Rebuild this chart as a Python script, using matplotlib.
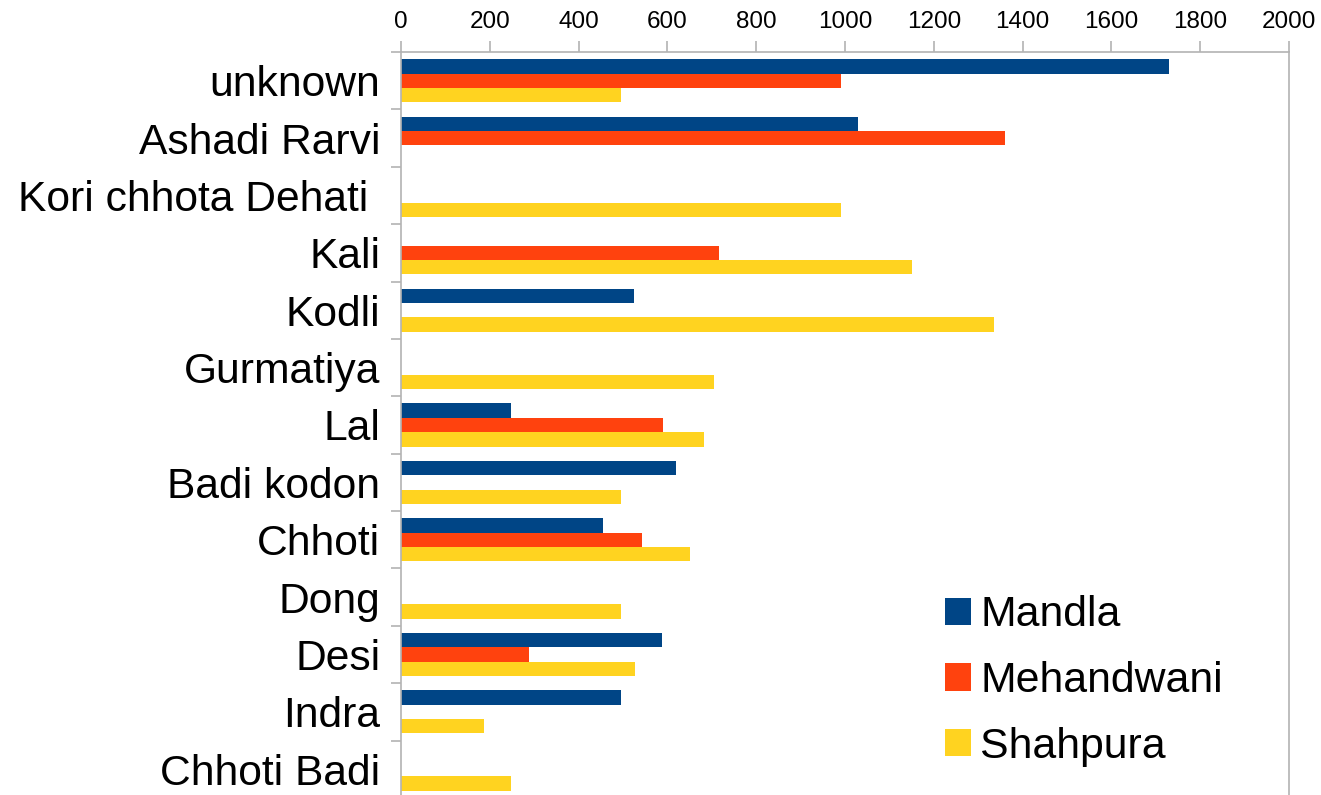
import numpy as np
import matplotlib
matplotlib.use('Agg')
import matplotlib.pyplot as plt
from matplotlib.patches import Patch

plt.rcParams['font.family'] = 'Liberation Sans'

categories = ['unknown', 'Ashadi Rarvi', 'Kori chhota Dehati ', 'Kali', 'Kodli',
              'Gurmatiya', 'Lal', 'Badi kodon', 'Chhoti', 'Dong', 'Desi',
              'Indra', 'Chhoti Badi']
mandla     = [1730, 1030, 0, 0, 525, 0, 248, 620, 455, 0, 588, 495, 0]
mehandwani = [990, 1360, 0, 716, 0, 0, 590, 0, 543, 0, 288, 0, 0]
shahpura   = [495, 0, 990, 1150, 1336, 705, 682, 495, 650, 495, 527, 187, 248]
series_names = ['Mandla', 'Mehandwani', 'Shahpura']
colors = ['#004586', '#ff420e', '#ffd320']

fig = plt.figure(figsize=(13.21, 7.95), dpi=100)
ax = fig.add_axes([401/1321, 1 - 798/795, 888/1321, 746/795])

y = np.arange(len(categories))
h = 0.25
for k, vals in enumerate([mandla, mehandwani, shahpura]):
    ax.barh(y + (k - 1) * h, vals, height=h, color=colors[k], linewidth=0)

ax.set_xlim(0, 2000)
ax.set_ylim(len(categories) - 0.5, -0.5)
ax.set_xticks(np.arange(0, 2001, 200))
ax.xaxis.tick_top()
ax.tick_params(axis='x', which='major', direction='out', length=8, width=1.2,
               color='#b3b3b3', labelsize=17.5, pad=6)

ax.set_yticks(y)
ax.set_yticklabels(categories)
ax.set_yticks(np.arange(-0.5, len(categories), 1), minor=True)
ax.tick_params(axis='y', which='major', length=0, labelsize=30.7, pad=15)
ax.tick_params(axis='y', which='minor', direction='out', length=7.5, width=1.2,
               color='#b3b3b3')

for side in ['left', 'top', 'right']:
    ax.spines[side].set_color('#b3b3b3')
    ax.spines[side].set_linewidth(1.2)
ax.spines['bottom'].set_visible(False)

handles = [Patch(facecolor=c, edgecolor='none') for c in colors]
fig.legend(handles, series_names, loc='center left',
           bbox_to_anchor=(945/1321, 1 - 681/795), frameon=False,
           fontsize=30.8, handlelength=0.6, handleheight=0.6,
           handletextpad=0.22, labelspacing=0.6, borderpad=0,
           borderaxespad=0)

fig.savefig('out.png', dpi=100)
